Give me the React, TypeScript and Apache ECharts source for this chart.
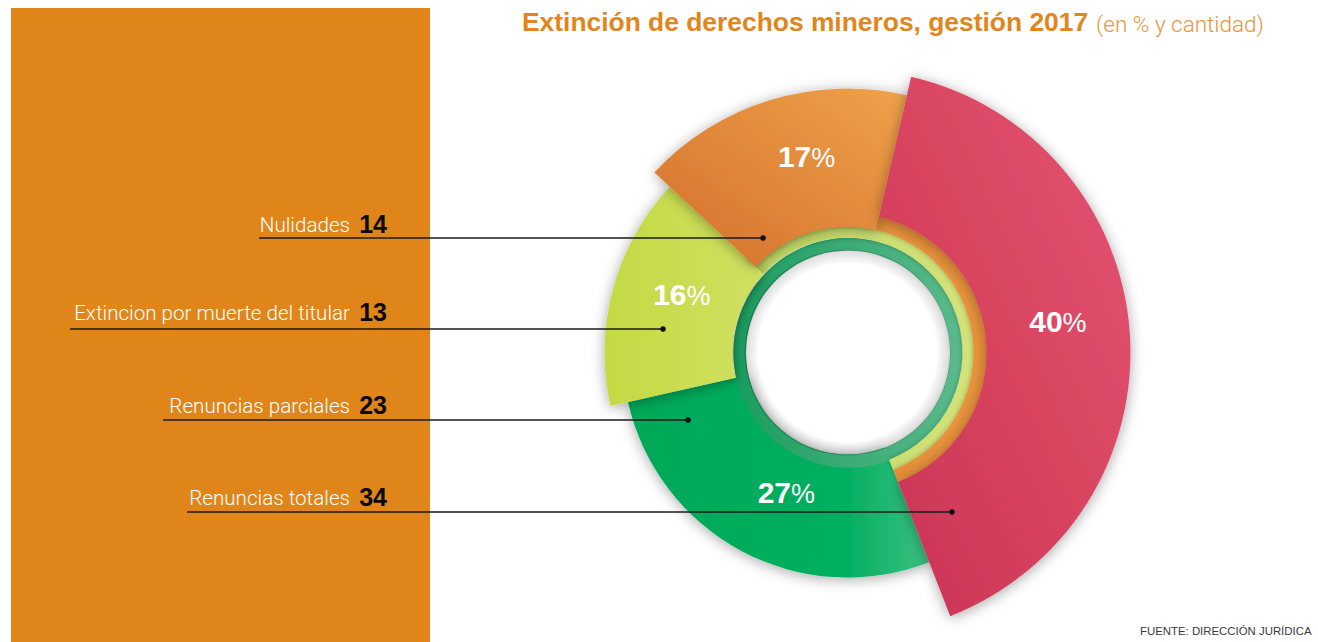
import React, { useEffect, useRef } from "react";
import * as echarts from "echarts";

// ---------- data ----------
const categories = [
  "Renuncias totales",
  "Renuncias parciales",
  "Extincion por muerte del titular",
  "Nulidades",
];
const values = [34, 23, 13, 14];
const percentLabels = ["40", "27", "16", "17"];
const titleMain = "Extinción de derechos mineros, gestión 2017";
const titleSub = "(en % y cantidad)";
const sourceText = "FUENTE: DIRECCIÓN JURÍDICA";

// ---------- layout ----------
const W = 1318;
const H = 642;
const CX = 847.5;
const CY = 352.5;
const START = 77; // start angle of first slice (echarts degrees)
const segRadius = [
  [139, 283],
  [102, 225],
  [115, 243],
  [126, 264],
];
const labelNudge = [
  [-3, -16],
  [17, -7],
  [10, -10],
  [17, -7],
];
const calloutLayout = [
  { baseline: 505, lineY: 512, x0: 187, dotX: 952 },
  { baseline: 413, lineY: 420, x0: 163, dotX: 688 },
  { baseline: 320, lineY: 329, x0: 70, dotX: 663 },
  { baseline: 232, lineY: 238, x0: 259, dotX: 763 },
];

const LG = (x0: number, y0: number, x1: number, y1: number, stops: [number, string][]) =>
  new echarts.graphic.LinearGradient(
    x0,
    y0,
    x1,
    y1,
    stops.map(([offset, color]) => ({ offset, color }))
  );

const segColors = [
  () => LG(1, 0, 0, 1, [[0, "#e35676"], [0.5, "#d9445f"], [1, "#c93356"]]),
  () => LG(0, 0, 1, 0, [[0, "#00a858"], [0.72, "#02af60"], [1, "#3cc081"]]),
  () => LG(0, 0, 1, 0, [[0, "#c4d943"], [1, "#d0e062"]]),
  () => LG(0, 1, 1, 0, [[0, "#d46f2c"], [1, "#eea24a"]]),
];

const HIDDEN = "rgba(0,0,0,0)";
const total = values.reduce((a, b) => a + b, 0);

function startOf(idx: number) {
  let cum = 0;
  for (let i = 0; i < idx; i++) cum += values[i];
  let a = START - (cum / total) * 360;
  while (a < 0) a += 360;
  return a;
}

const baseSeries = {
  type: "pie",
  silent: true,
  center: [CX, CY],
  clockwise: true,
  avoidLabelOverlap: false,
  labelLine: { show: false },
  emphasis: { disabled: true },
};

function segmentSeries(idx: number) {
  return {
    ...baseSeries,
    radius: segRadius[idx],
    startAngle: START,
    label: {
      show: true,
      position: "inside",
      formatter: () => `{n|${percentLabels[idx]}}{p|%}`,
      rich: {
        n: {
          fontFamily: "Liberation Sans",
          fontWeight: "bold",
          fontSize: 30,
          color: "#ffffff",
          verticalAlign: "bottom",
        },
        p: {
          fontFamily: "Liberation Sans",
          fontWeight: "normal",
          fontSize: 27,
          color: "#ffffff",
          verticalAlign: "bottom",
        },
      },
    },
    labelLayout: () => ({ dx: labelNudge[idx][0], dy: labelNudge[idx][1] }),
    data: values.map((v, i) =>
      i === idx
        ? {
            value: v,
            name: categories[i],
            itemStyle: {
              color: segColors[i](),
              borderWidth: 0,
              shadowBlur: 14,
              shadowColor: "rgba(0,0,0,0.35)",
              shadowOffsetX: 0,
              shadowOffsetY: 2,
            },
          }
        : {
            value: v,
            name: categories[i],
            itemStyle: { color: HIDDEN, borderWidth: 0 },
            label: { show: false },
          }
    ),
  };
}

// ring that runs from slice `fromIdx` clockwise through the end of slice 0
function ringSeries(fromIdx: number, radius: number[], color: any, shadow: number) {
  const covered = fromIdx === 0 ? total : values.slice(fromIdx).reduce((a, b) => a + b, 0) + values[0];
  const data: any[] = [
    {
      value: covered,
      itemStyle: {
        color,
        borderWidth: 0,
        shadowBlur: shadow,
        shadowColor: "rgba(0,0,0,0.28)",
      },
    },
  ];
  if (total - covered > 0) {
    data.push({ value: total - covered, itemStyle: { color: HIDDEN, borderWidth: 0 } });
  }
  return {
    ...baseSeries,
    radius,
    startAngle: startOf(fromIdx),
    label: { show: false },
    data,
  };
}

const holeShadow = {
  ...baseSeries,
  radius: [90, 103],
  startAngle: 90,
  label: { show: false },
  data: [
    {
      value: 1,
      itemStyle: {
        borderWidth: 0,
        color: new echarts.graphic.RadialGradient(0.5, 0.5, 0.5, [
          { offset: 0.86, color: "rgba(0,0,0,0)" },
          { offset: 0.97, color: "rgba(0,0,0,0.12)" },
          { offset: 1, color: "rgba(0,0,0,0.2)" },
        ]),
      },
    },
  ],
};

function buildGraphics() {
  const els: any[] = [
    {
      type: "rect",
      z: 0,
      shape: { x: 11, y: 8, width: 419, height: 640 },
      style: { fill: "#e0851a" },
    },
    {
      type: "text",
      z: 10,
      x: 522,
      y: 22,
      style: {
        text: `{b|${titleMain}}{g| }{s|${titleSub}}`,
        verticalAlign: "middle",
        textAlign: "left",
        rich: {
          b: {
            fontFamily: "Liberation Sans",
            fontWeight: "bold",
            fontSize: 26.4,
            fill: "#e2861c",
            verticalAlign: "bottom",
          },
          g: { fontSize: 26, width: 8 },
          s: {
            fontFamily: "Roboto",
            fontWeight: 300,
            fontSize: 22.5,
            fill: "#e8943a",
            verticalAlign: "bottom",
          },
        },
      },
    },
    {
      type: "text",
      z: 10,
      x: 1140,
      y: 631,
      style: {
        text: sourceText,
        fontFamily: "Liberation Sans",
        fontSize: 11.4,
        fill: "#3a3a3a",
        textAlign: "left",
        verticalAlign: "middle",
      },
    },
  ];
  categories.forEach((name, i) => {
    const L = calloutLayout[i];
    els.push(
      {
        type: "text",
        z: 10,
        x: 350,
        y: L.baseline - 7,
        style: {
          text: name,
          fontFamily: "Roboto",
          fontWeight: 300,
          fontSize: 20.6,
          fill: "#ffffff",
          textAlign: "right",
          verticalAlign: "middle",
        },
      },
      {
        type: "text",
        z: 10,
        x: 387,
        y: L.baseline - 8,
        style: {
          text: String(values[i]),
          fontFamily: "Liberation Sans",
          fontWeight: "bold",
          fontSize: 25,
          fill: "#0a0a0a",
          textAlign: "right",
          verticalAlign: "middle",
        },
      },
      {
        type: "line",
        z: 10,
        shape: { x1: L.x0, y1: L.lineY, x2: L.dotX, y2: L.lineY },
        style: { stroke: "#1a1a1a", lineWidth: 1.4 },
      },
      {
        type: "circle",
        z: 10,
        shape: { cx: L.dotX, cy: L.lineY, r: 2.8 },
        style: { fill: "#111111" },
      }
    );
  });
  return els;
}

export default function App() {
  const ref = useRef<HTMLDivElement>(null);
  useEffect(() => {
    if (!ref.current) return;
    const chart = echarts.init(ref.current, null, { renderer: "svg" });
    const option: any = {
      animation: false,
      backgroundColor: "#ffffff",
      series: [
        segmentSeries(1),
        ringSeries(0, [102, 115], LG(0, 0, 1, 0, [[0, "#1a9d5f"], [1, "#5cba8c"]]), 0),
        holeShadow,
        ringSeries(2, [115, 127], LG(0, 0, 1, 0, [[0, "#bcd65e"], [1, "#d4e27a"]]), 5),
        segmentSeries(2),
        ringSeries(3, [126, 140], LG(0, 0, 1, 0, [[0, "#e08433"], [1, "#eb963e"]]), 5),
        segmentSeries(3),
        segmentSeries(0),
      ],
      graphic: { elements: buildGraphics() },
    };
    chart.setOption(option);
    return () => chart.dispose();
  }, []);
  return (
    <div
      ref={ref}
      style={{ position: "fixed", left: 0, top: 0, width: W, height: H }}
    />
  );
}
